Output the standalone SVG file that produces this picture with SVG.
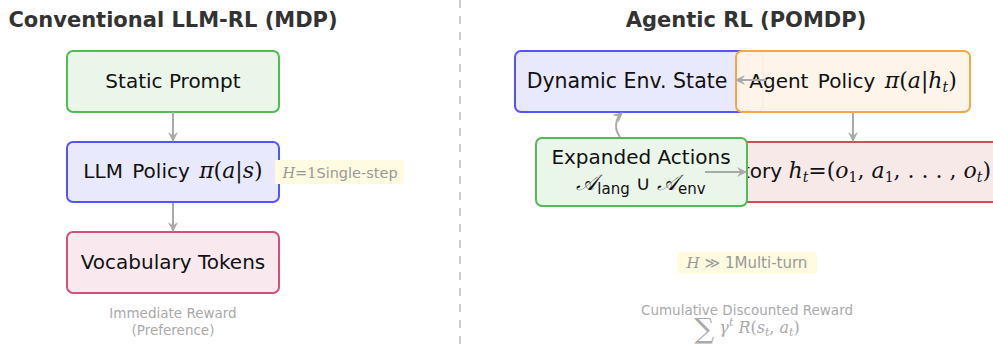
<svg xmlns="http://www.w3.org/2000/svg" width="993" height="346" viewBox="0 0 993 346">
  <defs>
    <marker id="arrow" viewBox="0 0 10 10" refX="9" refY="5" markerWidth="10" markerHeight="10" markerUnits="userSpaceOnUse" orient="auto">
      <path d="M0,0 L10,5 L0,10 L3.5,5 z" fill="#aaaaaa"/>
    </marker>
    <style>
      .title { font-family: "DejaVu Sans", sans-serif; font-weight: bold; font-size: 21px; fill: #333333; text-anchor: middle; }
      .lbl { font-family: "DejaVu Sans", sans-serif; font-size: 20px; fill: #111111; text-anchor: middle; }
      .m { font-family: "DejaVu Serif", "Liberation Serif", serif; font-style: italic; font-size: 22px; }
      .mu { font-family: "DejaVu Serif", "Liberation Serif", serif; font-style: normal; font-size: 22px; }
      .sub { font-size: 14px; }
      .note { font-family: "DejaVu Sans", sans-serif; font-size: 13.5px; fill: #aaaaaa; text-anchor: middle; }
      .tag { font-family: "DejaVu Sans", sans-serif; font-size: 14.5px; fill: #999999; text-anchor: middle; }
      .tm { font-family: "DejaVu Serif", serif; font-style: italic; }
      .tu { font-family: "DejaVu Serif", serif; }
      .tagbg { fill: #fffbe0; }
      .box { stroke-width: 2; }
      .green { fill: #ebf6ea; stroke: #55b955; }
      .blue { fill: #e9e9fd; stroke: #5555ff; }
      .crimson { fill: #f9e9ee; stroke: #d2507a; }
      .orange { fill: #fff4e8; stroke: #f5a54a; }
      .red { fill: #f8e9e9; stroke: #d05050; }
      .edge { fill: none; stroke: #aaaaaa; stroke-width: 2; marker-end: url(#arrow); }
    </style>
  </defs>

  <!-- panel divider -->
  <line x1="460" y1="0" x2="460" y2="346" stroke="#cccccc" stroke-width="2" stroke-dasharray="8 8"/>

  <!-- left panel: MDP -->
  <text class="title" x="173" y="27">Conventional LLM-RL (MDP)</text>

  <g id="static-prompt">
    <rect class="box green" x="67" y="51" width="212" height="61" rx="6"/>
    <text class="lbl" x="173" y="88">Static Prompt</text>
  </g>

  <g id="llm-policy">
    <rect class="box blue" x="67" y="142" width="212" height="60" rx="6"/>
    <text class="lbl" x="173" y="178" style="word-spacing:3px">LLM Policy <tspan class="m">π</tspan><tspan class="mu">(</tspan><tspan class="m">a</tspan><tspan class="mu">|</tspan><tspan class="m">s</tspan><tspan class="mu">)</tspan></text>
  </g>

  <g id="single-step-tag">
    <rect class="tagbg" x="275" y="160" width="129" height="24" rx="2"/>
    <text class="tag" x="340" y="178"><tspan class="tm">H</tspan><tspan class="tu">=1</tspan>Single-step</text>
  </g>

  <g id="vocab-tokens">
    <rect class="box crimson" x="67" y="232" width="212" height="61" rx="6"/>
    <text class="lbl" x="173" y="269">Vocabulary Tokens</text>
  </g>

  <g id="immediate-reward">
    <text class="note" x="173" y="318">Immediate Reward</text>
    <text class="note" x="173" y="335">(Preference)</text>
  </g>

  <!-- right panel: POMDP -->
  <text class="title" x="746" y="27">Agentic RL (POMDP)</text>

  <g id="env-state">
    <rect class="box blue" x="515" y="51" width="248" height="61" rx="6"/>
    <text class="lbl" x="627" y="88" style="font-size:20.5px">Dynamic Env. State</text>
  </g>

  <g id="agent-policy">
    <rect class="box orange" x="736" y="51" width="234" height="61" rx="6" fill-opacity="0.96"/>
    <text class="lbl" x="853" y="88" style="word-spacing:3px">Agent Policy <tspan class="m">π</tspan><tspan class="mu">(</tspan><tspan class="m">a</tspan><tspan class="mu">|</tspan><tspan class="m">h</tspan><tspan class="m sub" dy="4">t</tspan><tspan class="mu" dy="-4">)</tspan></text>
  </g>

  <g id="trajectory">
    <rect class="box red" x="680" y="142" width="330" height="60" rx="6"/>
    <text class="lbl" x="991" y="178" style="text-anchor:end">Trajectory <tspan class="m">h</tspan><tspan class="m sub" dy="4">t</tspan><tspan class="mu" dy="-4">=(</tspan><tspan class="m">o</tspan><tspan class="mu sub" dy="4">1</tspan><tspan class="mu" dy="-4">, </tspan><tspan class="m">a</tspan><tspan class="mu sub" dy="4">1</tspan><tspan class="mu" dy="-4">, . . . , </tspan><tspan class="m">o</tspan><tspan class="m sub" dy="4">t</tspan><tspan class="mu" dy="-4">)</tspan></text>
  </g>

  <g id="expanded-actions">
    <rect class="box green" x="536" y="138" width="211" height="68" rx="6"/>
    <text class="lbl" x="641" y="164">Expanded Actions</text>
    <text class="lbl" x="641" y="190"><tspan class="m">𝒜</tspan><tspan font-size="15" dy="4">lang</tspan><tspan dy="-4"> ∪ </tspan><tspan class="m">𝒜</tspan><tspan font-size="15" dy="4">env</tspan></text>
  </g>

  <g id="multi-turn-tag">
    <rect class="tagbg" x="677" y="252" width="140" height="22" rx="2"/>
    <text class="tag" x="747" y="268" style="font-size:15px"><tspan class="tm">H</tspan><tspan> ≫ </tspan>1Multi-turn</text>
  </g>

  <g id="cumulative-reward">
    <text class="note" x="747" y="315">Cumulative Discounted Reward</text>
    <text class="note" x="747" y="333"><tspan class="tu" style="font-size:28px" dy="5">∑</tspan><tspan class="tm" style="font-size:16px" dy="-5"> γ</tspan><tspan class="tm" style="font-size:11px" dy="-7">t</tspan><tspan class="tm" style="font-size:16px" dy="7"> R</tspan><tspan class="tu" style="font-size:16px">(</tspan><tspan class="tm" style="font-size:16px">s</tspan><tspan class="tm" style="font-size:11px" dy="3">t</tspan><tspan class="tu" style="font-size:16px" dy="-3">, </tspan><tspan class="tm" style="font-size:16px">a</tspan><tspan class="tm" style="font-size:11px" dy="3">t</tspan><tspan class="tu" style="font-size:16px" dy="-3">)</tspan></text>
  </g>

  <!-- connectors -->
  <g id="connectors">
    <path class="edge" d="M173,112 L173,141"/>
    <path class="edge" d="M173,203 L173,231"/>
    <path class="edge" d="M766,80 L736,80"/>
    <path class="edge" d="M853,113 L853,141"/>
    <path class="edge" d="M620,137 C614,129 615,119 622,113"/>
    <path class="edge" d="M705,172 L746,172"/>
  </g>
</svg>
